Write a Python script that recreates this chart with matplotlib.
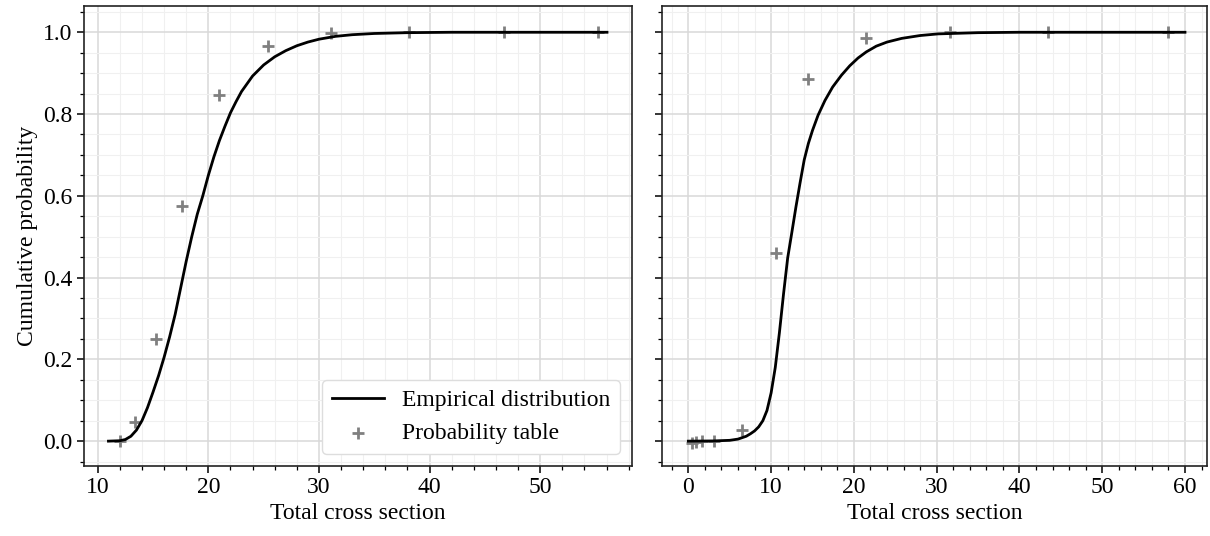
import matplotlib.pyplot as plt
from matplotlib.ticker import MultipleLocator

plt.rcParams['font.family'] = ['Liberation Serif', 'DejaVu Serif']
plt.rcParams['font.size'] = 17

# Left panel: empirical CDF and probability table points
left_curve_x = [10.97, 12.0, 12.5, 13.0, 13.5, 14.0, 14.5, 15.0, 15.5, 16.0, 16.5,
                17.0, 17.5, 18.0, 18.5, 19.0, 19.5, 20.0, 20.5, 21.0, 21.5, 22.0,
                22.5, 23.0, 24.0, 25.0, 26.0, 27.0, 28.0, 29.0, 30.0, 31.5, 33.0,
                35.0, 38.0, 42.0, 56.04]
left_curve_y = [0.0, 0.001, 0.004, 0.012, 0.027, 0.05, 0.082, 0.12, 0.16, 0.205, 0.255,
                0.31, 0.375, 0.44, 0.5, 0.555, 0.6, 0.65, 0.695, 0.735, 0.77, 0.803,
                0.83, 0.855, 0.893, 0.92, 0.94, 0.955, 0.967, 0.976, 0.983, 0.99, 0.994,
                0.997, 0.999, 1.0, 1.0]
left_table_x = [12.0, 13.39, 15.23, 17.65, 20.97, 25.42, 31.13, 38.13, 46.77, 55.23]
left_table_y = [0.0, 0.048, 0.249, 0.575, 0.847, 0.966, 0.997, 1.0, 1.0, 1.0]

# Right panel
right_curve_x = [0.0, 3.0, 5.0, 6.0, 7.0, 7.5, 8.0, 8.5, 9.0, 9.5, 10.0, 10.5, 11.0,
                 11.5, 12.0, 12.5, 13.0, 13.5, 14.0, 14.5, 15.0, 15.67, 16.5, 17.43,
                 18.5, 19.5, 20.5, 21.5, 22.7, 24.0, 25.77, 28.0, 30.16, 35.0, 40.0, 60.0]
right_curve_y = [0.0, 0.0005, 0.002, 0.005, 0.012, 0.018, 0.025, 0.035, 0.05, 0.075,
                 0.118, 0.18, 0.265, 0.36, 0.448, 0.51, 0.573, 0.632, 0.688, 0.728,
                 0.76, 0.797, 0.833, 0.866, 0.895, 0.918, 0.937, 0.952, 0.966, 0.976,
                 0.985, 0.992, 0.996, 0.999, 1.0, 1.0]
right_table_x = [0.5, 0.9, 1.6, 3.1, 6.54, 10.62, 14.49, 21.51, 31.56, 43.5, 57.9]
right_table_y = [-0.004, -0.002, 0.0, 0.001, 0.027, 0.46, 0.886, 0.985, 1.0, 1.0, 1.0]

fig = plt.figure(figsize=(12.1, 5.36), dpi=100)
ax1 = fig.add_axes([0.0697, 0.1312, 0.4526, 0.8582])
ax2 = fig.add_axes([0.5474, 0.1312, 0.4504, 0.8582], sharey=ax1)

panels = [
    (ax1, left_curve_x, left_curve_y, left_table_x, left_table_y, (8.79, 58.3)),
    (ax2, right_curve_x, right_curve_y, right_table_x, right_table_y, (-3.14, 62.7)),
]
for ax, cx, cy, tx, ty, xlim in panels:
    ax.plot(cx, cy, color='black', lw=2, label='Empirical distribution', zorder=3)
    ax.scatter(tx, ty, marker='+', s=70, linewidths=2, color='gray',
               label='Probability table', zorder=2)
    ax.set_xlim(*xlim)
    ax.set_ylim(-0.06, 1.065)
    ax.xaxis.set_major_locator(MultipleLocator(10))
    ax.xaxis.set_minor_locator(MultipleLocator(2))
    ax.yaxis.set_major_locator(MultipleLocator(0.2))
    ax.yaxis.set_minor_locator(MultipleLocator(0.05))
    ax.grid(which='major', color='#d9d9d9', lw=1.1)
    ax.grid(which='minor', color='#f0f0f0', lw=0.8)
    ax.set_axisbelow(True)
    ax.tick_params(which='major', length=5, width=1.1)
    ax.tick_params(which='minor', length=3, width=0.9)
    for s in ax.spines.values():
        s.set_color('#222222')
        s.set_linewidth(1.2)
    ax.set_xlabel('Total cross section', labelpad=3)

ax1.set_ylabel('Cumulative probability')
plt.setp(ax2.get_yticklabels(), visible=False)
ax1.legend(loc='lower right', fancybox=True, framealpha=1,
           edgecolor='#dddddd', handlelength=2.2)

fig.savefig('out.png', dpi=100)
